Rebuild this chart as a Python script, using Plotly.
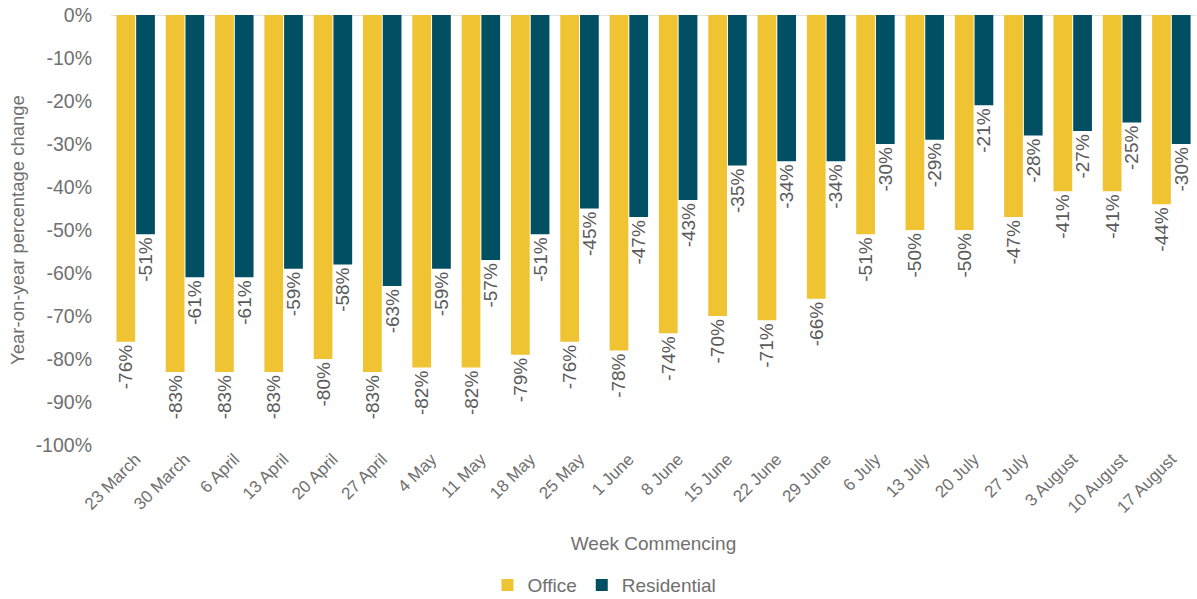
import plotly.graph_objects as go

weeks = ["23 March", "30 March", "6 April", "13 April", "20 April", "27 April",
         "4 May", "11 May", "18 May", "25 May", "1 June", "8 June", "15 June",
         "22 June", "29 June", "6 July", "13 July", "20 July", "27 July",
         "3 August", "10 August", "17 August"]
office = [-76, -83, -83, -83, -80, -83, -82, -82, -79, -76, -78, -74, -70,
          -71, -66, -51, -50, -50, -47, -41, -41, -44]
residential = [-51, -61, -61, -59, -58, -63, -59, -57, -51, -45, -47, -43, -35,
               -34, -34, -30, -29, -21, -28, -27, -25, -30]
y_ticks = [0, -10, -20, -30, -40, -50, -60, -70, -80, -90, -100]

FONT = "Liberation Sans, Arial, sans-serif"
GREY = "#707070"
LABEL_GREY = "#5a5a5a"

fig = go.Figure()
for name, vals, col in [("Office", office, "#F0C332"), ("Residential", residential, "#004F63")]:
    fig.add_trace(go.Bar(
        name=name, x=weeks, y=vals, marker=dict(color=col, line=dict(width=0)),
        texttemplate="%{y:.0f}%", textposition="outside", textangle=-90,
        constraintext="none",
        textfont=dict(family=FONT, size=19, color=LABEL_GREY),
        cliponaxis=False, hoverinfo="skip",
    ))

fig.update_layout(
    barmode="group", bargap=0.2, bargroupgap=0.05,
    width=1197, height=599,
    margin=dict(l=111, r=1, t=15, b=154),
    plot_bgcolor="white", paper_bgcolor="white",
    font=dict(family=FONT, size=19, color=GREY),
    legend=dict(orientation="h", xref="container", yref="container",
                x=0.505, xanchor="center", y=0.023, yanchor="middle",
                font=dict(size=19, color=GREY), itemwidth=30, traceorder="normal"),
    xaxis=dict(tickangle=-45, tickfont=dict(size=17, color=GREY), showgrid=False,
               showline=False, ticks="", automargin=False,
               title=dict(text="Week Commencing", font=dict(size=19, color=GREY), standoff=20)),
    yaxis=dict(range=[-100, 0], tickvals=y_ticks, ticktext=[f"{v}%" for v in y_ticks],
               tickfont=dict(size=19.5, color=GREY), showgrid=False, zeroline=False,
               showline=False, ticks="", ticklabelstandoff=18, automargin=False,
               ticklabeloverflow="allow",
               title=dict(text="Year-on-year percentage change",
                          font=dict(size=18.5, color=GREY), standoff=6)),
    shapes=[dict(type="line", xref="paper", yref="y", x0=0, x1=1, y0=0, y1=0,
                 line=dict(color="#d9d9d9", width=1.5), layer="below")],
)

fig.write_html("out.html", config={"displayModeBar": False},
               post_script="document.body.style.margin='0';")
